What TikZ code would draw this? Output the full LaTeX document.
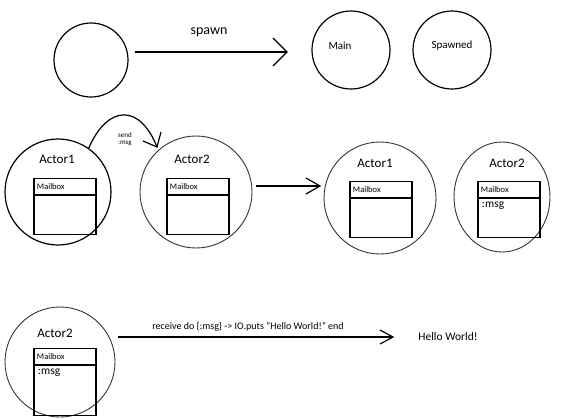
\documentclass[tikz,border=0pt]{standalone}
\usepackage{fontspec}
\setmainfont{Carlito}
\usetikzlibrary{calc,shapes.geometric}
\begin{document}
\begin{tikzpicture}[x=1pt,y=-1pt,
  proc/.style={draw,circle,line width=1.2pt,inner sep=0pt},
  thin proc/.style={draw,circle,line width=0.9pt,draw=black!80,inner sep=0pt},
  conn/.style={line width=1.2pt},
  boxhead/.style={draw,line width=1.1pt,minimum width=62pt,minimum height=16pt,anchor=north,inner sep=0pt},
  boxbody/.style={draw,line width=1.1pt,minimum width=62pt,minimum height=39pt,anchor=north,inner sep=0pt},
  lbl/.style={font=\fontsize{13}{15}\selectfont},
  mb/.style={font=\fontsize{8.5}{10}\selectfont},
  msg/.style={font=\fontsize{11.5}{13}\selectfont}
]
\useasboundingbox (0,0) rectangle (564,418);
% ---------- Row 1 ----------
\node[proc,minimum size=74pt] (c0) at (91,60) {};
\node[proc,minimum size=78pt] (main) at (351,50) {};
\node[proc,minimum size=78pt] (spawned) at (452,50) {};
\node[font=\fontsize{11}{13}\selectfont] at (340,46) {Main};
\node[font=\fontsize{11}{13}\selectfont] at (452,46) {Spawned};
\coordinate (s0) at (135,52);
\coordinate (s1) at (287,52);
\draw[conn] (s0) -- (s1);
\draw[conn] (273,38) -- (s1) -- (273,66);
\node[font=\fontsize{14}{16}\selectfont] at (209,32) {spawn};
% ---------- Row 2 ----------
\node[proc,minimum size=106pt] (act1) at (58,192) {};
\node[lbl] at (57,159) {Actor1};
\node[boxhead] (mbh1) at (65,178) {};
\node[mb,anchor=west] at (mbh1.west) {Mailbox};
\node[boxbody] at (mbh1.south) {};
\node[thin proc,minimum size=112pt] (act2) at (196,192) {};
\node[lbl] at (192,159) {Actor2};
\node[boxhead] (mbh2) at (198,178) {};
\node[mb,anchor=west] at (mbh2.west) {Mailbox};
\node[boxbody] at (mbh2.south) {};
% send arc
\coordinate (a1) at (157,147);
\draw[conn] (act1.55) .. controls (108,104) and (140,104) .. (a1);
\draw[conn] (161,132) -- (a1) -- (143,141);
\node[font=\fontsize{7}{7}\selectfont,align=left] at (125,139) {send\\:msg};
% middle arrow
\coordinate (m1) at (320,186);
\draw[conn] ($(act2.east)+(4,-6)$) -- (m1);
\draw[conn] (306,178) -- (m1) -- (306,194);
\node[thin proc,minimum size=112pt] (act1b) at (380,198) {};
\node[lbl] at (375,163) {Actor1};
\node[boxhead] (mbh3) at (381,181) {};
\node[mb,anchor=west] at (mbh3.west) {Mailbox};
\node[boxbody] at (mbh3.south) {};
\node[thin proc,ellipse,minimum width=96pt,minimum height=110pt] (act2b) at (502,197) {};
\node[lbl] at (507,163) {Actor2};
\node[boxhead] (mbh4) at (509,181) {};
\node[mb,anchor=west] at (mbh4.west) {Mailbox};
\node[boxbody] (bb4) at (mbh4.south) {};
\node[msg,anchor=north west] at ($(bb4.north west)+(1,0)$) {:msg};
% ---------- Row 3 ----------
\node[thin proc,minimum size=110pt] (act2c) at (60,362) {};
\node[lbl] at (55,333) {Actor2};
\node[boxhead] (mbh5) at (65,348) {};
\node[mb,anchor=west] at (mbh5.west) {Mailbox};
\node[boxbody,minimum height=50pt] (bb5) at (mbh5.south) {};
\node[msg,anchor=north west] at ($(bb5.north west)+(1,0)$) {:msg};
\node[font=\fontsize{11.5}{13}\selectfont] (hw) at (448,337) {Hello World!};
\coordinate (r1) at (393,337);
\draw[conn] ($(act2c.east)+(3,-25)$) -- (r1);
\draw[conn] (380,330) -- (r1) -- (380,344);
\node[font=\fontsize{10}{12}\selectfont] at (248,327) {receive do \{:msg\} -> IO.puts "Hello World!" end};
\end{tikzpicture}
\end{document}
